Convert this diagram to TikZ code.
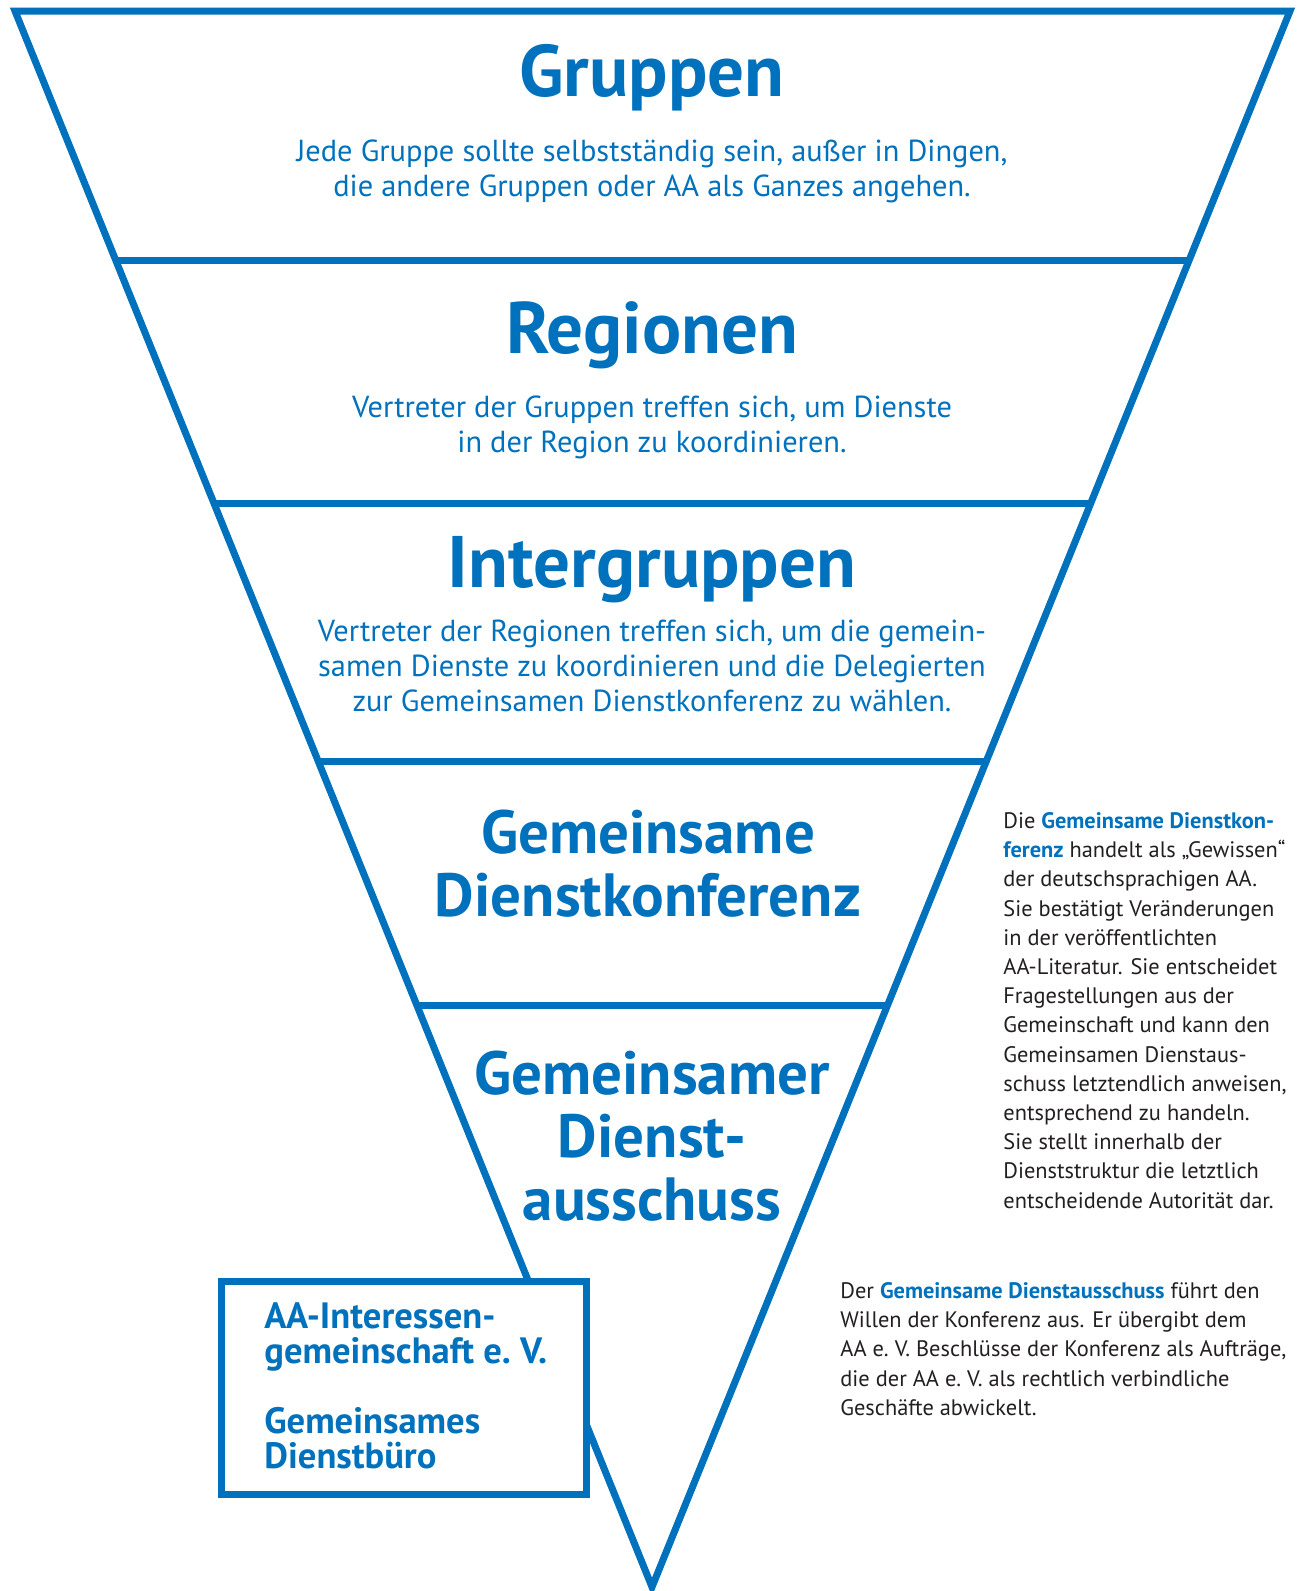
\documentclass[tikz,border=0pt]{standalone}
\usepackage{fontspec}
\setmainfont{PT Sans}
\usetikzlibrary{calc}
\usetikzlibrary{positioning}
\definecolor{aablue}{RGB}{0,113,188}
\definecolor{aatext}{RGB}{35,31,32}
\tikzstyle{level}=[font=\bfseries\fontsize{36.5}{44}\selectfont, text=aablue, align=center, inner sep=0pt]
\tikzstyle{sublevel}=[font=\bfseries\fontsize{30.5}{31.5}\selectfont, text=aablue, align=center, inner sep=0pt]
\tikzstyle{desc}=[font=\fontsize{15.2}{17.5}\selectfont, text=aablue, align=center, inner sep=0pt]
\tikzstyle{note}=[font=\fontsize{11.2}{14.6}\selectfont, text=aatext, align=left, anchor=north west, inner sep=0pt]
\tikzstyle{officebox}=[draw=aablue, line width=3.5pt, fill=white]
\newcommand{\hl}[1]{{\bfseries\color{aablue}#1}}

\begin{document}
\begin{tikzpicture}[x=0.5pt, y=-0.5pt]

   \useasboundingbox[fill=white] (0,0) rectangle (1299,1591);

   % triangle
   \coordinate (tl) at (15,11);
   \coordinate (tr) at (1290,11);
   \coordinate (apex) at (652,1587);
   \draw[aablue, line width=3.5pt, line join=miter] (tl) -- (tr) -- (apex) -- cycle;

   % levels
   \foreach \t/\name in {0.1585/a, 0.3126/b, 0.4762/c, 0.6309/d}
        \draw[aablue, line width=3.5pt] ($(tl)!\t!(apex)$) coordinate (\name l) -- ($(tr)!\t!(apex)$) coordinate (\name r);

   \node[level] (gruppen) at (652,78) {Gruppen};
   \node[desc] (gruppendesc) at (652,171) {Jede Gruppe sollte selbstständig sein, außer in Dingen,\\die andere Gruppen oder AA als Ganzes angehen.};

   \node[level] (regionen) at (652,335) {Regionen};
   \node[desc] (regionendesc) at (652,427) {Vertreter der Gruppen treffen sich, um Dienste\\in der Region zu koordinieren.};

   \node[level] (intergruppen) at (652,570) {Intergruppen};
   \node[desc] (intergruppendesc) at (652,666) {Vertreter der Regionen treffen sich, um die gemein-\\samen Dienste zu koordinieren und die Delegierten\\zur Gemeinsamen Dienstkonferenz zu wählen.};

   \node[sublevel] (konferenz) at (648,864) {Gemeinsame\\Dienstkonferenz};

   \node[sublevel] (ausschuss) at (652,1136) {Gemeinsamer\\Dienst-\\ausschuss};

   % office
   \draw[officebox] (221,1281) rectangle (586,1494);
   \node[desc, align=left, anchor=north west, font=\bfseries\fontsize{18.3}{17.5}\selectfont] (buero) at (264,1302) {AA-Interessen-\\gemeinschaft e.~V.\\[17.5pt]Gemeinsames\\Dienstbüro};

   % notes
   \node[note] (konferenznote) at (1003,812) {Die \hl{Gemeinsame Dienstkon-}\\\hl{ferenz} handelt als „Gewissen“\\der deutschsprachigen AA.\\Sie bestätigt Veränderungen\\in der veröffentlichten\\AA-Literatur. Sie entscheidet\\Fragestellungen aus der\\Gemeinschaft und kann den\\Gemeinsamen Dienstaus-\\schuss letztendlich anweisen,\\entsprechend zu handeln.\\Sie stellt innerhalb der\\Dienststruktur die letztlich\\entscheidende Autorität dar.};

   \node[note] (ausschussnote) at (840,1282) {Der \hl{Gemeinsame Dienstausschuss} führt den\\Willen der Konferenz aus. Er übergibt dem\\AA e.~V. Beschlüsse der Konferenz als Aufträge,\\die der AA e.~V. als rechtlich verbindliche\\Geschäfte abwickelt.};

\end{tikzpicture}
\end{document}
